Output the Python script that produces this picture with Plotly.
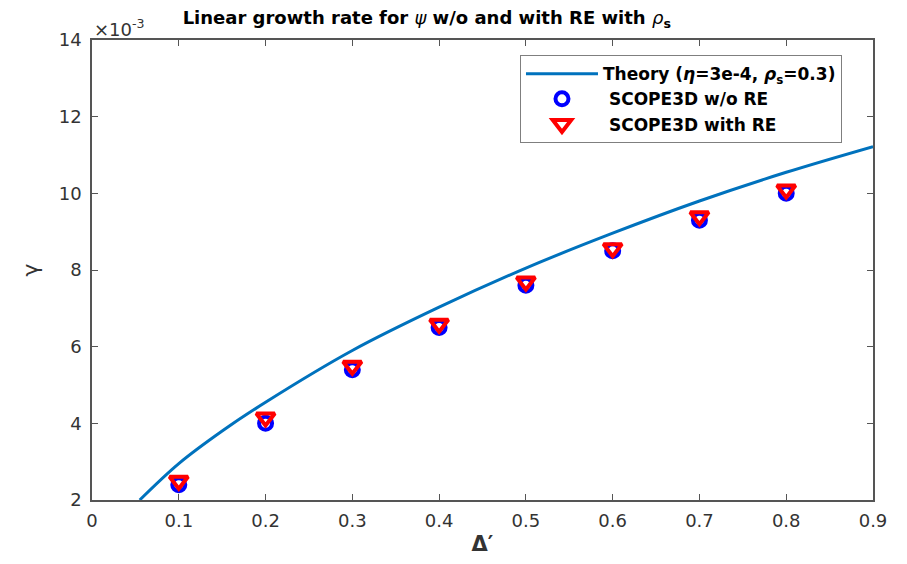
import plotly.graph_objects as go

# Simulation data (gamma in units of 1e-3)
delta_sim = [0.1, 0.2, 0.3, 0.4, 0.5, 0.6, 0.7, 0.8]
gamma_no_re = [2.4, 4.0, 5.4, 6.5, 7.6, 8.5, 9.3, 10.0]
gamma_re = [2.5, 4.15, 5.5, 6.6, 7.7, 8.57, 9.4, 10.1]

# Theory curve
delta_theory = [0.055, 0.1, 0.15, 0.2, 0.3, 0.4, 0.5, 0.6, 0.7, 0.8, 0.9]
gamma_theory = [2.0, 2.95, 3.8, 4.55, 5.9, 7.03, 8.05, 8.96, 9.8, 10.55, 11.22]

x_ticks = [0, 0.1, 0.2, 0.3, 0.4, 0.5, 0.6, 0.7, 0.8, 0.9]
y_ticks = [2, 4, 6, 8, 10, 12, 14]

FONT = "DejaVu Sans, Liberation Sans, Arial, sans-serif"
AX = "#333333"

fig = go.Figure()
fig.add_trace(go.Scatter(
    x=delta_theory, y=gamma_theory, mode="lines", line_shape="spline",
    line=dict(color="#0072BD", width=3),
    name="<b>Theory (<i>η</i>=3e-4, <i>ρ</i><sub>s</sub>=0.3)</b>"))
fig.add_trace(go.Scatter(
    x=delta_sim, y=gamma_no_re, mode="markers",
    marker=dict(symbol="circle-open", size=13, color="#0000FF", line=dict(width=4, color="#0000FF")),
    name="<b> SCOPE3D w/o RE</b>"))
fig.add_trace(go.Scatter(
    x=delta_sim, y=gamma_re, mode="markers",
    marker=dict(symbol="triangle-down-open", size=16, color="#FF0000", line=dict(width=4, color="#FF0000")),
    name="<b> SCOPE3D with RE</b>"))

axis_common = dict(showline=True, linecolor="#555555", linewidth=1.5, mirror="ticks",
                   ticks="inside", ticklen=6, tickcolor="#555555", tickwidth=1,
                   showgrid=False, zeroline=False, automargin=False,
                   tickfont=dict(family=FONT, size=18, color=AX))

fig.update_xaxes(range=[0, 0.9], tickvals=x_ticks, ticktext=[f"{v:g}" for v in x_ticks],
                 ticklabelstandoff=4,
                 title=dict(text="<b>Δ′</b>", font=dict(family=FONT, size=21, color=AX), standoff=6),
                 **axis_common)
fig.update_yaxes(range=[2, 14], tickvals=y_ticks, ticklabelstandoff=5,
                 title=dict(text="γ", font=dict(family=FONT, size=22, color=AX), standoff=14),
                 **axis_common)

fig.update_layout(
    width=891, height=548,
    margin=dict(l=84, r=26, t=32, b=56),
    paper_bgcolor="white", plot_bgcolor="white",
    font=dict(family=FONT, color="black"),
    title=dict(text="<b>Linear growth rate for </b><i>ψ</i><b> w/o and with RE with </b><i>ρ</i><b><sub>s</sub></b>",
               x=0.47, xanchor="center", y=0.993, yanchor="top",
               font=dict(family=FONT, size=18, color="black")),
    legend=dict(x=0.548, y=0.967, xanchor="left", yanchor="top",
                bgcolor="white", bordercolor="#7f7f7f", borderwidth=1,
                font=dict(family=FONT, size=17, color="black"),
                tracegroupgap=0, itemwidth=72),
    showlegend=True,
)
fig.add_annotation(text="×10<sup>-3</sup>", xref="paper", yref="paper", x=0.0, y=1.0,
                   xanchor="left", yanchor="bottom", showarrow=False,
                   font=dict(family=FONT, size=18, color=AX), yshift=-2)

fig.write_html("out.html")
